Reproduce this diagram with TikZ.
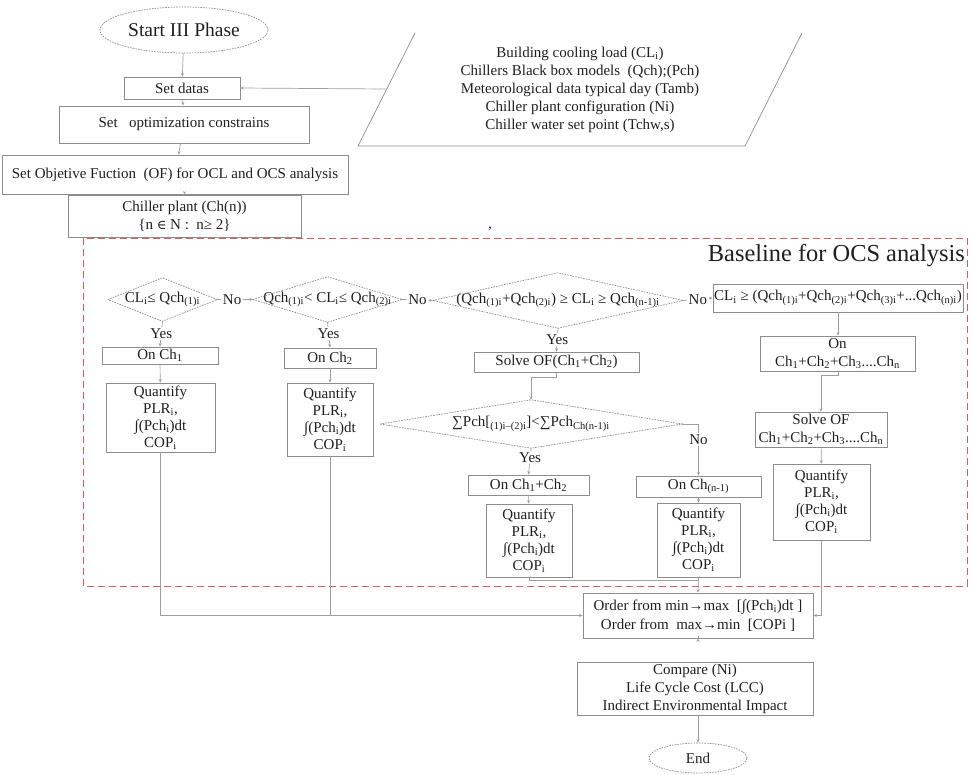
\documentclass[tikz,border=0pt]{standalone}
\usepackage{fontspec}
\setmainfont{Liberation Serif}
\newfontfamily\symfont{DejaVu Serif}
\usetikzlibrary{arrows.meta,shapes.geometric}
\definecolor{boxc}{gray}{0.55}
\definecolor{linec}{gray}{0.62}
\definecolor{redd}{RGB}{205,95,95}
\definecolor{txt}{gray}{0.12}
\newcommand{\sbs}[1]{\textsubscript{#1}}
\begin{document}
\begin{tikzpicture}[x=1pt,y=-1pt,
  base/.style={font=\fontsize{15}{17}\selectfont, text=txt, align=center, inner sep=0pt},
  rbox/.style={base, draw=boxc, line width=0.8pt},
  dbox/.style={base},
  dia/.style={draw=boxc, line width=0.7pt, dash pattern=on 1.6pt off 1.1pt},
  oval/.style={base, ellipse, draw=boxc, line width=0.7pt, dash pattern=on 1.6pt off 1.1pt},
  conn/.style={draw=linec, line width=0.7pt, -{Stealth[length=3.5pt,width=3pt]}},
  plain/.style={draw=linec, line width=0.7pt},
  lbl/.style={base, fill=white, inner sep=1.5pt}
]
\useasboundingbox (0,0) rectangle (972,774);

% top part
\node[oval, font=\fontsize{19.5}{22}\selectfont, minimum width=168pt, minimum height=46pt] (start) at (184,30) {Start III Phase};
\node[rbox, minimum width=116pt, minimum height=22pt] (datas) at (182,88) {Set datas};
\node[rbox, minimum width=250pt, minimum height=37pt] (constr) at (184,124.5) {Set\ \ \ optimization constrains};
\node[rbox, minimum width=346pt, minimum height=39pt] (obj) at (175,174.5) {Set Objetive Fuction\ \ (OF) for OCL and OCS analysis};
\node[rbox, minimum width=233pt, minimum height=42pt, font=\fontsize{15}{18}\selectfont] (plant) at (184.5,216) {Chiller plant (Ch(n))\\\{n {\symfont\fontsize{13}{15}\selectfont ∈} N :\ \ n≥ 2\}};

% input parallelogram
\draw[draw=boxc, line width=0.7pt] (415,33) -- (358,146) -- (745,146) -- (802,33);
\coordinate (pin) at (387,89);
\node[base, font=\fontsize{15}{18}\selectfont] (inp) at (580,89.5) {Building cooling load (CL\sbs{i})\\Chillers Black box models\ \ (Qch);(Pch)\\Meteorological data typical day (Tamb)\\Chiller plant configuration (Ni)\\Chiller water set point (Tchw,s)};
\node[base] (comma) at (490,229) {,};

% frame
\draw[redd, line width=1pt, dash pattern=on 7pt off 4pt] (83,238) rectangle (967,586);
\node[base, font=\fontsize{24.4}{28}\selectfont, anchor=east] (basel) at (965,256) {Baseline for OCS analysis};

% decisions row
\node[dbox, minimum width=109pt, minimum height=43pt] (d1) at (162.5,299.5) {CL\sbs{i}≤ Qch\sbs{(1)i}};
\node[dbox, minimum width=149pt, minimum height=45pt] (d2) at (327.5,299.5) {Qch\sbs{(1)i}< CL\sbs{i}≤ Qch\sbs{(2)i}};
\node[dbox, minimum width=250pt, minimum height=55pt] (d3) at (558,300.5) {(Qch\sbs{(1)i}+Qch\sbs{(2)i}) ≥ CL\sbs{i} ≥ Qch\sbs{(n-1)i}};
\node[rbox, minimum width=250pt, minimum height=28pt] (box4) at (838,298) {CL\sbs{i} ≥ (Qch\sbs{(1)i}+Qch\sbs{(2)i}+Qch\sbs{(3)i}+...Qch\sbs{(n)i})};
\foreach \d in {d1,d2,d3}{
  \draw[dia] (\d.west) -- (\d.north) -- (\d.east) -- (\d.south) -- cycle;
}

% column 1
\node[rbox, minimum width=116pt, minimum height=17pt] (on1) at (160,355.5) {On Ch\sbs{1}};
\node[rbox, minimum width=109pt, minimum height=69pt] (q1) at (160.5,417.5) {Quantify\\PLR\sbs{i},\\∫(Pch\sbs{i})dt\\COP\sbs{i}};
% column 2
\node[rbox, minimum width=92pt, minimum height=20pt] (on2) at (330,358) {On Ch\sbs{2}};
\node[rbox, minimum width=86pt, minimum height=73pt] (q2) at (330,419.5) {Quantify\\PLR\sbs{i},\\∫(Pch\sbs{i})dt\\COP\sbs{i}};
% column 3
\node[rbox, minimum width=165pt, minimum height=20pt] (solve12) at (556.5,362) {Solve OF(Ch\sbs{1}+Ch\sbs{2})};
\node[dbox, minimum width=302pt, minimum height=48pt] (d4) at (531,424) {∑Pch[\sbs{(1)i--(2)i}]<∑Pch\sbs{Ch(n-1)i}};
\draw[dia] (d4.west) -- (d4.north) -- (d4.east) -- (d4.south) -- cycle;
\node[rbox, minimum width=121pt, minimum height=20pt] (on12) at (528.5,485) {On Ch\sbs{1}+Ch\sbs{2}};
\node[rbox, minimum width=86pt, minimum height=73pt] (q3) at (529,540.5) {Quantify\\PLR\sbs{i},\\∫(Pch\sbs{i})dt\\COP\sbs{i}};
\node[rbox, minimum width=125pt, minimum height=21pt] (onn1) at (698.5,486.5) {On Ch\sbs{(n-1)}};
\node[rbox, minimum width=83pt, minimum height=74pt] (q4) at (698.5,540) {Quantify\\PLR\sbs{i},\\∫(Pch\sbs{i})dt\\COP\sbs{i}};
% column 4
\node[rbox, minimum width=155pt, minimum height=35pt, font=\fontsize{15}{18}\selectfont] (onall) at (837.5,353.5) {On\\Ch\sbs{1}+Ch\sbs{2}+Ch\sbs{3}....Ch\sbs{n}};
\node[rbox, minimum width=132pt, minimum height=35pt, font=\fontsize{15}{18}\selectfont] (solven) at (821,429.5) {Solve OF\\Ch\sbs{1}+Ch\sbs{2}+Ch\sbs{3}....Ch\sbs{n}};
\node[rbox, minimum width=97pt, minimum height=76pt] (q5) at (821.5,502) {Quantify\\PLR\sbs{i},\\∫(Pch\sbs{i})dt\\COP\sbs{i}};

% bottom
\node[rbox, minimum width=230pt, minimum height=45pt, font=\fontsize{15}{19}\selectfont] (order) at (698,615.5) {Order from min→max\ \ [∫(Pch\sbs{i})dt ]\\Order from\ \ max→min\ \ [COPi ]};
\node[rbox, minimum width=236pt, minimum height=53pt, font=\fontsize{15}{18}\selectfont] (compare) at (695,688.5) {Compare (Ni)\\Life Cycle Cost (LCC)\\Indirect Environmental Impact};
\node[oval, minimum width=98pt, minimum height=30pt] (end) at (698,758) {End};

% connectors top
\draw[conn] (start) -- (datas);
\draw[conn] (datas) -- (constr);
\draw[conn] (constr) -- (obj);
\draw[conn] (obj.south -| plant) -- (plant);
\draw[conn] (pin) -- (datas.east);

% decision row connectors
\draw[conn] (d1.east) -- node[lbl, pos=0.42]{No} (d2.west);
\draw[conn] (d2.east) -- node[lbl]{No} (d3.west);
\draw[conn] (d3.east) -- node[lbl]{No} (box4.west);
\draw[conn] (d1.south) -- node[lbl]{Yes} (on1.north);
\draw[conn] (d2.south) -- node[lbl, pos=0.45]{Yes} (on2.north);
\draw[conn] (d3.south) -- node[lbl]{Yes} (solve12.north);
\draw[conn] (on1) -- (q1);
\draw[conn] (on2) -- (q2);
\draw[conn] (solve12.south) -- ++(0,5) -| (d4.north);
\draw[conn] (d4.south) -- node[lbl, pos=0.35]{Yes} (on12.north);
\draw[conn] (d4.east) -| node[lbl, pos=0.654]{No} (onn1.north);
\draw[conn] (on12) -- (q3);
\draw[conn] (onn1) -- (q4);
\draw[conn] (box4) -- (box4.south |- onall.north);
\draw[conn] (onall.south -| box4.south) -- ++(0,4) -| (solven.north);
\draw[conn] (solven) -- (q5);

% into order
\draw[conn] (q1.south) |- (order.west);
\draw[plain] (q2.south) -- (q2.south |- order.west);
\draw[plain] (q3.south) -- ++(0,3) -| (q4.south);
\draw[conn] (q4.south) -- (order.north);
\draw[conn] (q5.south) |- (order.east);
\draw[conn] (order.south -| end) -- (order.south -| end |- compare.north);
\draw[conn] (compare.south -| end) -- (end.north);
\end{tikzpicture}
\end{document}
